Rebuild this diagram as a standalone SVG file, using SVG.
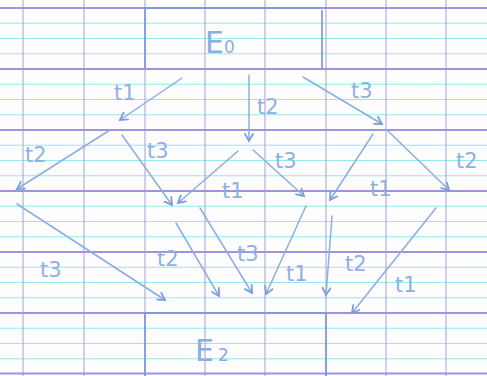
<svg xmlns="http://www.w3.org/2000/svg" width="487" height="376" viewBox="0 0 487 376">
  <style>
    .cyan { stroke: #97e6f1; stroke-width: 1.1; fill: none; }
    .maj { stroke: #9f92de; stroke-width: 1.8; fill: none; }
    .vert { stroke: #aca8d8; stroke-width: 1.1; fill: none; }
    .box { stroke: #7b9bd6; stroke-width: 1.7; fill: none; }
    .pen { stroke: #8aaee2; stroke-width: 1.5; fill: none; stroke-linecap: round; }
    .lbl { font-family: "DejaVu Sans", "Liberation Sans", sans-serif; font-size: 21px; fill: #8fb0e2; }
    .big { font-family: "DejaVu Sans", "Liberation Sans", sans-serif; font-size: 30px; fill: #8aaee2; }
  </style>
  <defs>
    <marker id="ah" markerWidth="10" markerHeight="10" refX="8" refY="5" orient="auto" markerUnits="userSpaceOnUse">
      <path d="M1,1 L8,5 L1,9" stroke="#7a9fdc" stroke-width="1.8" fill="none" stroke-linecap="round"/>
    </marker>
  </defs>
  <rect width="487" height="376" fill="#fdfdfe"/>
  <g id="paper">
    <path class="cyan" d="M0,23.25H487M0,38.5H487M0,53.75H487M0,84.25H487M0,99.5H487M0,114.75H487M0,145.25H487M0,160.5H487M0,175.75H487M0,206.25H487M0,221.5H487M0,236.75H487M0,267.25H487M0,282.5H487M0,297.75H487M0,328.25H487M0,343.5H487M0,358.75H487"/>
    <path class="vert" d="M23,0V376M84,0V376M145,0V376M205,0V376M265,0V376M326,0V376M386,0V376M446,0V376"/>
    <path class="maj" d="M0,8H487M0,69H487M0,130H487M0,191H487M0,252H487M0,313H487M0,373.5H487"/>
  </g>
  <g id="E0">
    <path class="box" d="M145,69V8H322M322,10V68"/>
    <text class="big" x="205" y="53">E<tspan font-size="17">0</tspan></text>
  </g>
  <g id="E2">
    <path class="box" d="M145,376V313H326M326,313V376"/>
    <text class="big" x="195" y="361">E<tspan font-size="17" dx="4">2</tspan></text>
  </g>
  <g id="connectors">
    <path class="pen" marker-end="url(#ah)" d="M182,78L120,120"/>
    <path class="pen" marker-end="url(#ah)" d="M249,75L249,141"/>
    <path class="pen" marker-end="url(#ah)" d="M303,77L382,124"/>
    <path class="pen" marker-end="url(#ah)" d="M110,130L17,189"/>
    <path class="pen" marker-end="url(#ah)" d="M122,135L172,205"/>
    <path class="pen" marker-end="url(#ah)" d="M238,151L178,203"/>
    <path class="pen" marker-end="url(#ah)" d="M253,150L304,196"/>
    <path class="pen" marker-end="url(#ah)" d="M373,134L330,200"/>
    <path class="pen" marker-end="url(#ah)" d="M388,131L449,190"/>
    <path class="pen" marker-end="url(#ah)" d="M17,204L165,300"/>
    <path class="pen" marker-end="url(#ah)" d="M176,223L219,296"/>
    <path class="pen" marker-end="url(#ah)" d="M200,208L252,293"/>
    <path class="pen" marker-end="url(#ah)" d="M306,206L266,294"/>
    <path class="pen" marker-end="url(#ah)" d="M332,216L326,295"/>
    <path class="pen" marker-end="url(#ah)" d="M436,208L352,313"/>
  </g>
  <g id="labels">
    <text class="lbl" x="114" y="100">t1</text>
    <text class="lbl" x="257" y="114">t2</text>
    <text class="lbl" x="351" y="98">t3</text>
    <text class="lbl" x="25" y="162">t2</text>
    <text class="lbl" x="147" y="158">t3</text>
    <text class="lbl" x="222" y="198">t1</text>
    <text class="lbl" x="275" y="168">t3</text>
    <text class="lbl" x="370" y="196">t1</text>
    <text class="lbl" x="456" y="168">t2</text>
    <text class="lbl" x="40" y="277">t3</text>
    <text class="lbl" x="157" y="266">t2</text>
    <text class="lbl" x="237" y="261">t3</text>
    <text class="lbl" x="286" y="281">t1</text>
    <text class="lbl" x="345" y="271">t2</text>
    <text class="lbl" x="395" y="292">t1</text>
  </g>
</svg>
